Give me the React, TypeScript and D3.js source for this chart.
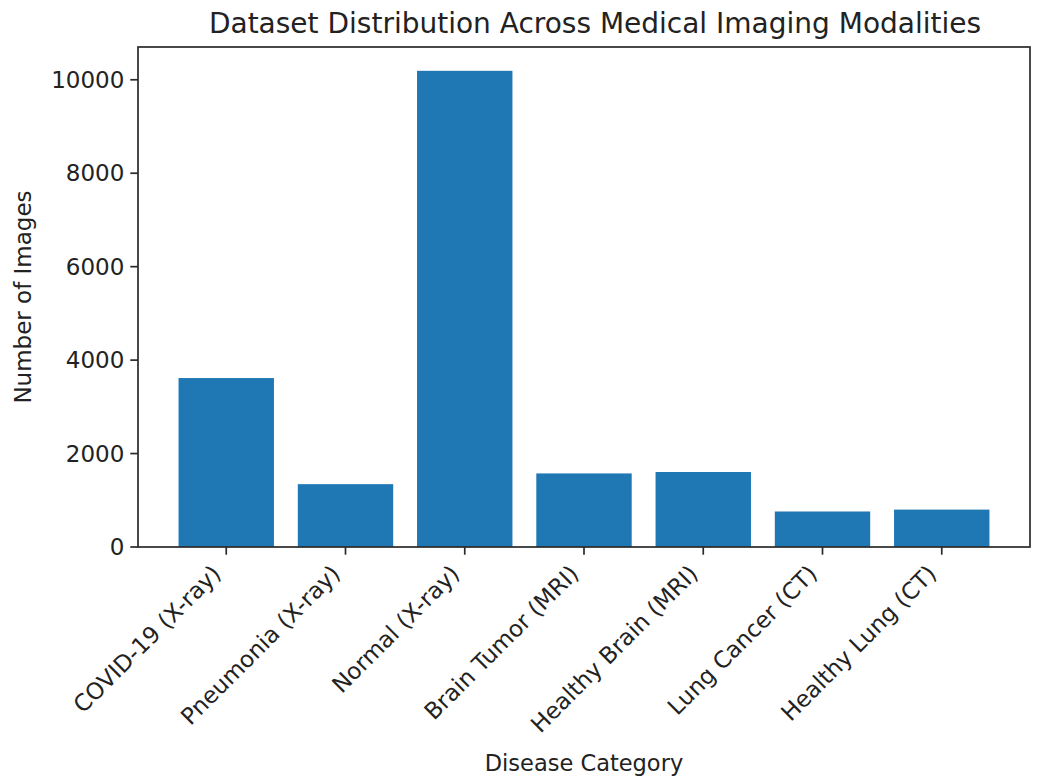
import React from "react";
import * as d3 from "d3";

const categories = [
  "COVID-19 (X-ray)",
  "Pneumonia (X-ray)",
  "Normal (X-ray)",
  "Brain Tumor (MRI)",
  "Healthy Brain (MRI)",
  "Lung Cancer (CT)",
  "Healthy Lung (CT)",
];
const counts = [3616, 1345, 10192, 1575, 1605, 760, 800];
const yTicks = [0, 2000, 4000, 6000, 8000, 10000];

const W = 1042;
const H = 778;
const M = { left: 138, right: 12, top: 47, bottom: 231 };
const FONT = "DejaVu Sans, sans-serif";

export default function App() {
  const x0 = M.left;
  const x1 = W - M.right;
  const y0 = H - M.bottom;
  const y1 = M.top;
  const n = categories.length;
  const x = d3.scaleLinear().domain([-0.4 - 0.34, n - 1 + 0.4 + 0.34]).range([x0, x1]);
  const maxV = d3.max(counts) as number;
  const y = d3.scaleLinear().domain([0, maxV * 1.05]).range([y0, y1]);
  const tickLen = 7.7;
  const fs = 23;
  const a = 0.76 * fs;
  const d = 0.24 * fs;

  return (
    <svg width={W} height={H} style={{ position: "absolute", left: 0, top: 0, background: "#fff" }} fontFamily={FONT}>
      {counts.map((v, i) => (
        <rect key={i} x={x(i - 0.4)} y={y(v)} width={x(i + 0.4) - x(i - 0.4)} height={y0 - y(v)} fill="#1f77b4" />
      ))}
      <rect x={x0} y={y1} width={x1 - x0} height={y0 - y1} fill="none" stroke="#2a2a2a" strokeWidth={1.7} />
      {yTicks.map((t) => (
        <g key={t}>
          <line x1={x0 - tickLen} x2={x0} y1={y(t)} y2={y(t)} stroke="#2a2a2a" strokeWidth={1.7} />
          <text x={x0 - tickLen - 6} y={y(t)} textAnchor="end" dominantBaseline="central" fontSize={fs} fill="#222">
            {t}
          </text>
        </g>
      ))}
      {categories.map((c, i) => (
        <g key={c}>
          <line x1={x(i)} x2={x(i)} y1={y0} y2={y0 + tickLen} stroke="#2a2a2a" strokeWidth={1.7} />
          <text
            transform={`translate(${x(i) - 0.707 * d},${y0 + tickLen + 8 + 0.707 * a}) rotate(-45)`}
            textAnchor="end"
            fontSize={fs}
            fill="#222"
          >
            {c}
          </text>
        </g>
      ))}
      <text x={(x0 + x1) / 2} y={771} textAnchor="middle" fontSize={22.5} fill="#222">
        Disease Category
      </text>
      <text transform={`translate(31,${(y0 + y1) / 2}) rotate(-90)`} textAnchor="middle" fontSize={fs} fill="#222">
        Number of Images
      </text>
      <text x={(x0 + x1) / 2 + 11} y={33} textAnchor="middle" fontSize={28} fill="#222">
        Dataset Distribution Across Medical Imaging Modalities
      </text>
    </svg>
  );
}
